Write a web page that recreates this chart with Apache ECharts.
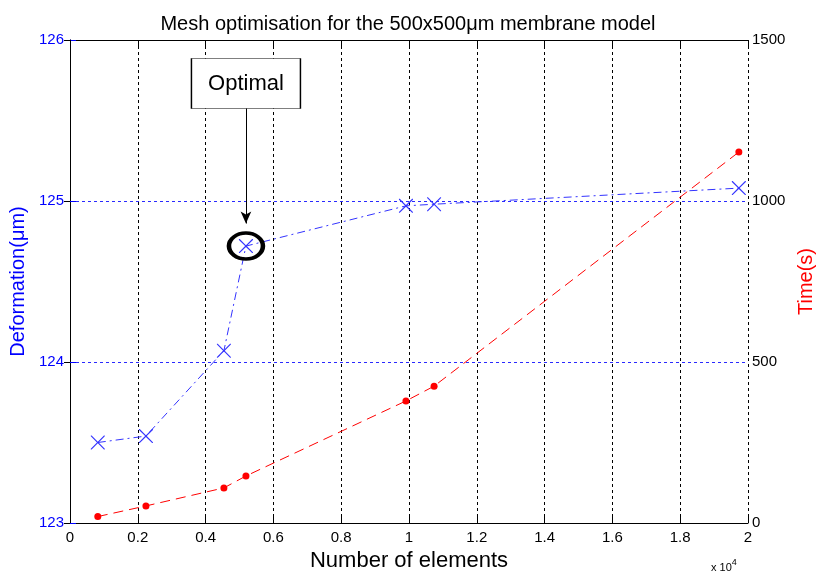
<!DOCTYPE html>
<html>
<head>
<meta charset="utf-8">
<script src="https://cdn.jsdelivr.net/npm/echarts@6/dist/echarts.min.js"></script>
<style>
html,body{margin:0;padding:0;background:#fff;}
#main{width:816px;height:577px;}
</style>
</head>
<body>
<div id="main"></div>
<script>
// number of elements in each mesh
var elements = [820, 2240, 4540, 5190, 9910, 10740, 19730];
// deformation (um), left axis
var deformation = [123.50, 123.54, 124.07, 124.72, 124.97, 124.98, 125.08];
// computing time (s), right axis
var timeSec = [20, 53, 109, 146, 379, 425, 1152];
var xTicks = [0, 0.2, 0.4, 0.6, 0.8, 1, 1.2, 1.4, 1.6, 1.8, 2];
var optimalIdx = 3;

var font = 'Liberation Sans, Arial, sans-serif';
var myChart = echarts.init(document.getElementById('main'));

function pairs(xs, ys){
    var out = [];
    for (var i = 0; i < xs.length; i++) {
        out.push([xs[i], ys[i]]);
    }
    return out;
}

var optX = elements[optimalIdx];

option = {
    animation: false,
    title: {
        text: 'Mesh optimisation for the 500x500\u03BCm membrane model',
        left: 'center',
        top: 9,
        textStyle: {fontFamily: font, fontSize: 20, fontWeight: 'normal', color: '#000'}
    },
    grid: {left: 70, right: 68, top: 40, bottom: 54, containLabel: false, outerBoundsMode: 'none'},
    xAxis: [{
        type: 'value',
        min: 0, max: 20000, interval: 2000,
        name: 'Number of elements',
        nameLocation: 'middle',
        nameGap: 27,
        nameTextStyle: {fontFamily: font, fontSize: 22, color: '#000'},
        axisLine: {lineStyle: {color: '#000', width: 1}},
        axisTick: {inside: true, length: 6, lineStyle: {color: '#000'}},
        axisLabel: {
            fontFamily: font, fontSize: 15, color: '#000', margin: 7,
            formatter: function(v){ return xTicks[Math.round(v / 2000)] + ''; }
        },
        splitLine: {show: true, lineStyle: {color: '#000', type: [3, 3], width: 1}}
    }, {
        type: 'value',
        position: 'top',
        min: 0, max: 20000, interval: 2000,
        axisLine: {show: true, lineStyle: {color: '#000', width: 1}},
        axisTick: {show: true, inside: true, length: 6, lineStyle: {color: '#000'}},
        axisLabel: {show: false},
        splitLine: {show: false}
    }],
    yAxis: [{
        type: 'value',
        min: 123, max: 126, interval: 1,
        name: 'Deformation(\u03BCm)',
        nameLocation: 'middle',
        nameGap: 18,
        nameTextStyle: {fontFamily: font, fontSize: 20, color: '#0000ff'},
        axisLine: {show: true, lineStyle: {color: '#0000ff', width: 1}},
        axisTick: {show: true, inside: true, length: 6, lineStyle: {color: '#0000ff'}},
        axisLabel: {fontFamily: font, fontSize: 15, color: '#0000ff', margin: 6},
        splitLine: {show: true, lineStyle: {color: '#2a2aff', type: [3, 3], width: 1}}
    }, {
        type: 'value',
        position: 'right',
        min: 0, max: 1500, interval: 500,
        name: 'Time(s)',
        nameLocation: 'middle',
        nameGap: 48,
        nameTextStyle: {fontFamily: font, fontSize: 20, color: '#ff0000'},
        axisLine: {show: true, lineStyle: {color: '#000', width: 1}},
        axisTick: {show: true, inside: true, length: 6, lineStyle: {color: '#000'}},
        axisLabel: {
            fontFamily: font, fontSize: 15, color: '#000', margin: 4,
            formatter: function(v){ return String(v); }
        },
        splitLine: {show: false}
    }],
    graphic: [{
        type: 'text',
        left: 711,
        top: 558,
        style: {
            text: 'x 10{s|4}',
            rich: {s: {fontSize: 9, verticalAlign: 'top', padding: [0, 0, 10, 0], fontFamily: font}},
            font: '11px ' + font,
            fill: '#000'
        }
    }],
    series: [{
        name: 'Deformation',
        type: 'line',
        yAxisIndex: 0,
        data: pairs(elements, deformation),
        symbol: 'path://M0,0L0.6,0L5,4.4L9.4,0L10,0L10,0.6L5.6,5L10,9.4L10,10L9.4,10L5,5.6L0.6,10L0,10L0,9.4L4.4,5L0,0.6Z',
        symbolSize: 14,
        itemStyle: {color: '#3333ff'},
        lineStyle: {color: '#3333ff', width: 1, type: [8, 4, 2, 4]},
        z: 3,
        markPoint: {
            silent: true,
            symbol: 'circle',
            symbolSize: [34, 26],
            itemStyle: {color: 'rgba(0,0,0,0)', borderColor: '#000', borderWidth: 4},
            label: {show: false},
            data: [{coord: [optX, deformation[optimalIdx]]}]
        },
        markLine: {
            silent: true,
            symbol: ['none', 'arrow'],
            symbolSize: [8, 12],
            lineStyle: {color: '#000', type: 'solid', width: 1},
            label: {show: false},
            data: [[{coord: [optX, 125.58]}, {coord: [optX, 124.86]}]]
        }
    }, {
        name: 'Time',
        type: 'line',
        yAxisIndex: 1,
        data: pairs(elements, timeSec),
        symbol: 'circle',
        symbolSize: 7,
        itemStyle: {color: '#ff0000'},
        lineStyle: {color: '#ff0000', width: 1, type: [10, 6]},
        z: 3
    }, {
        name: 'Optimal',
        type: 'scatter',
        yAxisIndex: 0,
        silent: true,
        data: [[optX, 125.73]],
        symbol: 'rect',
        symbolSize: [109, 50],
        itemStyle: {color: '#fff', borderColor: '#000', borderWidth: 1, opacity: 1},
        label: {
            show: true, position: 'inside', formatter: 'Optimal',
            fontFamily: font, fontSize: 22, color: '#000'
        },
        z: 5
    }]
};
myChart.setOption(option);
</script>
</body>
</html>
